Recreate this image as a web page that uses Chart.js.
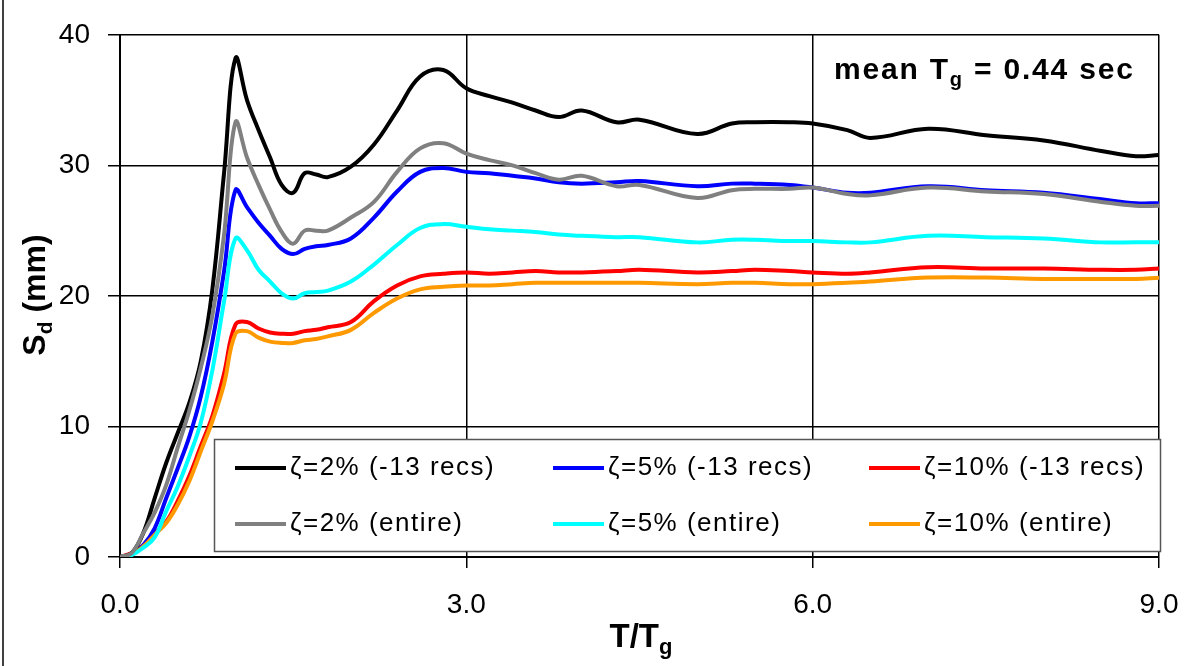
<!DOCTYPE html>
<html>
<head>
<meta charset="utf-8">
<script src="https://cdn.jsdelivr.net/npm/chart.js@4.4.1/dist/chart.umd.min.js"></script>
<style>
  html, body { margin: 0; padding: 0; background: #fff; }
  #wrap { width: 1192px; height: 666px; }
</style>
</head>
<body>
<div id="wrap"><canvas id="sdChart" width="1192" height="666"></canvas></div>
<script>
"use strict";

// normalised period T/Tg
const period = [0, 0.1, 0.2, 0.3, 0.4, 0.5, 0.6, 0.7, 0.8, 0.9, 1.0, 1.1, 1.2, 1.3, 1.4, 1.5, 1.6, 1.7, 1.8,
	2.0, 2.2, 2.4, 2.6, 2.8, 3.0, 3.2, 3.4, 3.6, 3.8, 4.0, 4.3, 4.5, 5.0, 5.3, 5.5, 5.8, 6.0, 6.3, 6.5,
	7.0, 7.5, 8.0, 8.5, 8.8, 9.0];

// Sd (mm)
const z2Recs = [0, 0.3, 1.8, 4.5, 7.2, 9.5, 11.8, 15.0, 20.5, 29.3, 38.2, 35.0, 32.7, 30.6, 28.5, 27.9, 29.4, 29.3, 29.1,
	29.9, 31.6, 34.2, 36.8, 37.3, 35.9, 35.3, 34.8, 34.2, 33.7, 34.2, 33.3, 33.5, 32.4, 33.2, 33.3, 33.3, 33.2, 32.7, 32.1,
	32.8, 32.3, 31.9, 31.1, 30.7, 30.8];
const z5Recs = [0, 0.2, 0.9, 2.2, 4.5, 6.8, 9.2, 12.3, 16.5, 21.8, 28.1, 26.8, 25.6, 24.6, 23.6, 23.2, 23.6, 23.8, 23.9,
	24.4, 26.0, 28.0, 29.5, 29.8, 29.5, 29.4, 29.2, 29.0, 28.7, 28.6, 28.7, 28.8, 28.4, 28.6, 28.6, 28.5, 28.3, 27.9, 27.9,
	28.4, 28.1, 27.9, 27.4, 27.1, 27.1];
const z10Recs = [0, 0.3, 0.9, 1.8, 2.7, 4.3, 6.2, 8.5, 10.8, 14.0, 17.8, 18.0, 17.5, 17.2, 17.1, 17.1, 17.3, 17.4, 17.6,
	18.0, 19.6, 20.8, 21.5, 21.7, 21.8, 21.7, 21.8, 21.9, 21.8, 21.8, 21.9, 22.0, 21.8, 21.9, 22.0, 21.9, 21.8, 21.7, 21.8,
	22.2, 22.1, 22.1, 22.0, 22.0, 22.1];
const z2All = [0, 0.3, 1.8, 3.4, 5.5, 8.4, 11.2, 14.5, 18.5, 24.6, 33.3, 30.6, 28.5, 26.6, 24.9, 24.0, 25.0, 25.0, 25.0,
	26.0, 27.2, 29.5, 31.3, 31.7, 30.9, 30.4, 30.0, 29.4, 28.9, 29.2, 28.4, 28.5, 27.5, 28.1, 28.2, 28.2, 28.3, 27.8, 27.7,
	28.3, 28.0, 27.8, 27.2, 26.9, 26.9];
const z5All = [0, 0.15, 0.7, 1.5, 3.5, 5.4, 7.7, 10.3, 14.3, 19.5, 24.4, 23.5, 22.0, 21.1, 20.2, 19.8, 20.2, 20.3, 20.4,
	21.1, 22.4, 23.9, 25.2, 25.5, 25.3, 25.1, 25.0, 24.9, 24.7, 24.6, 24.5, 24.5, 24.1, 24.3, 24.3, 24.2, 24.2, 24.1, 24.1,
	24.6, 24.5, 24.4, 24.1, 24.1, 24.1];
const z10All = [0, 0.2, 0.8, 1.7, 2.6, 4.0, 5.8, 8.1, 10.4, 13.2, 17.1, 17.3, 16.8, 16.5, 16.4, 16.4, 16.6, 16.7, 16.9,
	17.4, 18.7, 19.8, 20.5, 20.7, 20.8, 20.8, 20.9, 21.0, 21.0, 21.0, 21.0, 21.0, 20.9, 21.0, 21.0, 20.9, 20.9, 21.0, 21.1,
	21.4, 21.4, 21.3, 21.3, 21.3, 21.4];

const seriesLabels = ["ζ=2% (-13 recs)", "ζ=5% (-13 recs)", "ζ=10% (-13 recs)",
	"ζ=2% (entire)", "ζ=5% (entire)", "ζ=10% (entire)"];
const seriesColors = ["#000000", "#0000ff", "#ff0000", "#808080", "#00ffff", "#ff9900"];
const seriesValues = [z2Recs, z5Recs, z10Recs, z2All, z5All, z10All];

const xTicks = [0, 3, 6, 9];
const yTicks = [0, 10, 20, 30, 40];

const FONT = "'Liberation Sans', Arial, Helvetica, sans-serif";

function toPoints(values){
	return period.map((t, i) => ({ x: t, y: values[i] }));
}

// draw a run of text pieces (for subscripts), starting at x
function drawParts(ctx, parts, x, y, align){
	let total = 0;
	parts.forEach(p => { ctx.font = p.font; total += ctx.measureText(p.text).width; });
	let cx = align === "center" ? x - total / 2 : x;
	ctx.textAlign = "left";
	ctx.textBaseline = "alphabetic";
	parts.forEach(p => {
		ctx.font = p.font;
		ctx.fillText(p.text, cx, y + (p.dy || 0));
		cx += ctx.measureText(p.text).width;
	});
}

const extras = {
	id: "extras",
	afterDraw(chart){
		const ctx = chart.ctx;
		ctx.save();
		ctx.fillStyle = "#000";

		// outer frame edge
		ctx.strokeStyle = "#000";
		ctx.lineWidth = 1.5;
		ctx.beginPath();
		ctx.moveTo(3, 0);
		ctx.lineTo(3, 666);
		ctx.stroke();

		// legend box inside the plot
		ctx.fillStyle = "#fff";
		ctx.fillRect(215, 440, 946, 112);
		ctx.strokeStyle = "#555";
		ctx.lineWidth = 1.5;
		ctx.strokeRect(214.5, 439.5, 946, 112);

		const colX = [235, 553, 869];
		const rowY = [468, 524];
		ctx.letterSpacing = "1.5px";
		seriesLabels.forEach((label, i) => {
			const cx = colX[i % 3];
			const cy = rowY[Math.floor(i / 3)];
			ctx.strokeStyle = seriesColors[i];
			ctx.lineWidth = 4;
			ctx.beginPath();
			ctx.moveTo(cx, cy);
			ctx.lineTo(cx + 51, cy);
			ctx.stroke();
			ctx.fillStyle = "#000";
			ctx.font = `26px ${FONT}`;
			ctx.textAlign = "left";
			ctx.textBaseline = "middle";
			ctx.fillText(label, cx + 55, cy);
		});

		ctx.fillStyle = "#000";
		// annotation
		ctx.letterSpacing = "1.8px";
		drawParts(ctx, [
			{ text: "mean T", font: `bold 30px ${FONT}` },
			{ text: "g", font: `bold 20px ${FONT}`, dy: 7 },
			{ text: " = 0.44 sec", font: `bold 30px ${FONT}` }
		], 834, 79, "left");
		ctx.letterSpacing = "0px";

		// x axis title
		drawParts(ctx, [
			{ text: "T/T", font: `bold 33px ${FONT}` },
			{ text: "g", font: `bold 22px ${FONT}`, dy: 7 }
		], 641, 647, "center");

		// y axis title
		ctx.translate(45, 295);
		ctx.rotate(-Math.PI / 2);
		drawParts(ctx, [
			{ text: "S", font: `bold 32px ${FONT}` },
			{ text: "d", font: `bold 21px ${FONT}`, dy: 7 },
			{ text: " (mm)", font: `bold 32px ${FONT}` }
		], 0, 0, "center");

		ctx.restore();
	}
};

const datasets = seriesLabels.map((label, i) => ({
	label: label,
	data: toPoints(seriesValues[i]),
	borderColor: seriesColors[i],
	borderWidth: 4,
	pointRadius: 0,
	fill: false,
	tension: 0.4,
	order: i < 3 ? 1 : 0
}));

new Chart(document.querySelector("#sdChart").getContext("2d"), {
	type: "line",
	data: { datasets: datasets },
	plugins: [extras],
	options: {
		responsive: false,
		animation: false,
		events: [],
		layout: { padding: { top: 34, right: 33, left: 0, bottom: 0 } },
		plugins: {
			legend: { display: false },
			tooltip: { enabled: false }
		},
		scales: {
			x: {
				type: "linear",
				min: 0,
				max: 9,
				afterBuildTicks: scale => { scale.ticks = xTicks.map(v => ({ value: v })); },
				afterFit: scale => {
					scale.height = 109;
					scale.paddingLeft = 0;
					scale.paddingRight = 20;
				},
				ticks: {
					color: "#000",
					padding: 20,
					font: { family: FONT, size: 28 },
					callback: v => v.toFixed(1)
				},
				grid: { color: "#000", lineWidth: 1.5, tickLength: 11, tickColor: "#000" },
				border: { display: true, color: "#000", width: 2 }
			},
			y: {
				min: 0,
				max: 40,
				afterBuildTicks: scale => { scale.ticks = yTicks.map(v => ({ value: v })); },
				afterFit: scale => { scale.width = 120; },
				ticks: {
					color: "#000",
					padding: 18,
					font: { family: FONT, size: 28 }
				},
				grid: { color: "#000", lineWidth: 1.5, tickLength: 12, tickColor: "#000" },
				border: { display: true, color: "#000", width: 2 }
			}
		}
	}
});
</script>
</body>
</html>
